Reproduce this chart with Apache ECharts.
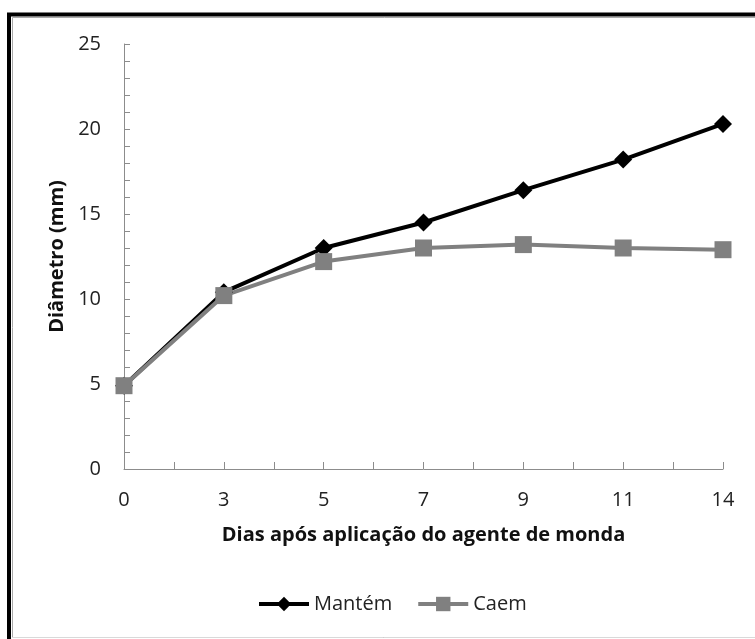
<!DOCTYPE html>
<html>
<head>
<meta charset="utf-8">
<script src="https://cdn.jsdelivr.net/npm/echarts@6/dist/echarts.min.js"></script>
<style>
html,body{margin:0;padding:0;background:#fff;}
#chart{width:755px;height:639px;}
</style>
</head>
<body>
<div id="chart"></div>
<script>
// dias apos aplicacao
var dias = ['0', '3', '5', '7', '9', '11', '14'];
var mantem = [4.9, 10.4, 13.0, 14.5, 16.4, 18.2, 20.3];
var caem = [4.9, 10.2, 12.2, 13.0, 13.2, 13.0, 12.9];
var yTicks = [0, 5, 10, 15, 20, 25];

var fonte = '"Open Sans", sans-serif';
var myChart = echarts.init(document.getElementById('chart'));

function pares(arr){
	var out = [];
	for(var i = 0;i<arr.length;i++){
		out.push([i, arr[i]]);
	}
	return out;
}

var option = {
	animation: false,
	backgroundColor: '#fff',
	graphic: [
		{ type: 'rect', shape: {x: 9, y: 14.5, width: 800, height: 700}, style: {fill: null, stroke: '#000', lineWidth: 4} },
		{ type: 'rect', shape: {x: 12.5, y: 17.5, width: 800, height: 620}, style: {fill: null, stroke: '#aaa', lineWidth: 1} },
		{ type: 'line', shape: {x1: 12, y1: 637.5, x2: 755, y2: 637.5}, style: {stroke: '#d9d9d9', lineWidth: 1} }
	],
	grid: {
		left: 124,
		right: 32,
		top: 44,
		bottom: 170
	},
	legend: {
		left: 252,
		top: 589,
		itemWidth: 50,
		itemHeight: 18,
		itemGap: 24,
		lineStyle: { width: 4 },
		textStyle: { fontFamily: fonte, fontSize: 20, color: '#222' },
		data: ['Mantém', 'Caem']
	},
	xAxis: {
		type: 'value',
		min: 0,
		max: dias.length - 1,
		interval: 1,
		name: 'Dias após aplicação do agente de monda',
		nameLocation: 'middle',
		nameGap: 56,
		nameTextStyle: { fontFamily: fonte, fontSize: 20, fontWeight: 'bold', color: '#111' },
		axisLine: { lineStyle: { color: '#8c8c8c', width: 1 } },
		axisTick: { inside: true, length: 7, lineStyle: { color: '#8c8c8c' } },
		minorTick: { show: true, splitNumber: 2, length: 7, lineStyle: { color: '#8c8c8c' } },
		splitLine: { show: false },
		axisLabel: {
			margin: 21,
			fontFamily: fonte,
			fontSize: 20,
			color: '#222',
			formatter: function(v){ return dias[v]; }
		}
	},
	yAxis: {
		type: 'value',
		min: yTicks[0],
		max: yTicks[yTicks.length - 1],
		interval: 5,
		name: 'Diâmetro (mm)',
		nameLocation: 'middle',
		nameGap: 55,
		nameTextStyle: { fontFamily: fonte, fontSize: 20, fontWeight: 'bold', color: '#111' },
		axisLine: { show: true, lineStyle: { color: '#8c8c8c', width: 1 } },
		axisTick: { show: true, inside: true, length: 6, lineStyle: { color: '#8c8c8c' } },
		minorTick: { show: true, splitNumber: 5, length: 6, lineStyle: { color: '#8c8c8c' } },
		splitLine: { show: false },
		axisLabel: { margin: 23, fontFamily: fonte, fontSize: 20, color: '#222' }
	},
	series: [
		{
			name: 'Mantém',
			type: 'line',
			data: pares(mantem),
			symbol: 'diamond',
			symbolSize: 18,
			clip: false,
			lineStyle: { color: '#000', width: 4 },
			itemStyle: { color: '#000' }
		},
		{
			name: 'Caem',
			type: 'line',
			data: pares(caem),
			symbol: 'rect',
			symbolSize: 17,
			clip: false,
			lineStyle: { color: '#808080', width: 4 },
			itemStyle: { color: '#808080' }
		}
	]
};
myChart.setOption(option);
</script>
</body>
</html>
